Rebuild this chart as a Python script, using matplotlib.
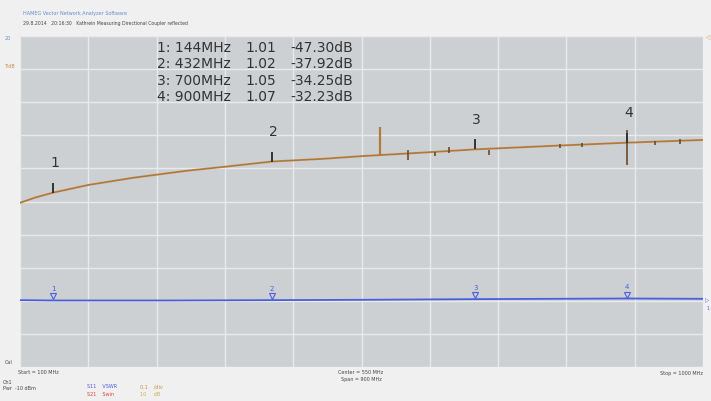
import matplotlib.pyplot as plt
import numpy as np

# trace S21 (dB), 100 .. 1000 MHz
freq_mhz = [100, 120, 144, 170, 190, 250, 320, 370, 432, 500, 550, 640, 700, 800, 900, 1000]
trace_db = [-50.4, -48.8, -47.3, -46.0, -45.0, -42.8, -40.7, -39.5, -37.92, -37.1, -36.3, -35.1, -34.25, -33.2, -32.23, -31.4]

# VSWR trace (blue)
vswr_freq = [100, 144, 300, 432, 550, 700, 800, 900, 1000]
vswr_val = [1.02, 1.01, 1.01, 1.02, 1.03, 1.05, 1.06, 1.07, 1.06]

# spikes on the dB trace: freq, top, bottom
spike_freq = [574, 611, 647, 665, 718, 812, 840, 900, 937, 970]
spike_top = [-27.5, -34.3, -35.0, -33.6, -34.4, -32.6, -32.3, -28.4, -31.6, -31.2]
spike_bot = [-36.0, -37.4, -36.4, -35.3, -35.9, -33.9, -33.6, -39.0, -32.9, -32.6]

# markers
marker_freq = [144, 432, 700, 900]
marker_vswr = ["1.01", "1.02", "1.05", "1.07"]
marker_db = [-47.30, -37.92, -34.25, -32.23]

fig = plt.figure(figsize=(7.11, 4.01), dpi=100)
fig.patch.set_facecolor('#f0f0f0')

ax = fig.add_axes([20 / 711, 1 - 367 / 401, 683 / 711, 331 / 401])
ax.set_facecolor('#cdd0d3')
ax.set_xlim(100, 1000)
ax.set_ylim(-100, 0)
ax.set_xticks(np.linspace(100, 1000, 11))
ax.set_yticks(np.linspace(-100, 0, 11))
ax.grid(True, color='#e8eaec', lw=1.0)
ax.tick_params(length=0, labelbottom=False, labelleft=False)
for s in ax.spines.values():
    s.set_visible(False)

# dB trace
ax.plot(freq_mhz, trace_db, color='#c08848', lw=1.4, zorder=3)
ax.plot(freq_mhz, trace_db, color='#8a5a2a', lw=0.5, alpha=0.5, zorder=3)
ax.vlines(spike_freq, spike_bot, spike_top, color='#6b4a2a', lw=1.2, zorder=4)
ax.vlines(spike_freq[0], spike_bot[0], spike_top[0], color='#b57a3a', lw=1.6, zorder=4)

for i, (f, d) in enumerate(zip(marker_freq, marker_db)):
    ax.vlines(f, d, d + 3.0, color='#333333', lw=1.4, zorder=5)
    ax.annotate(str(i + 1), (f, d), xytext=(1, 16), textcoords='offset points',
                ha='center', va='bottom', fontsize=10, color='#333333')

# VSWR trace on its own scale
ax2 = ax.twinx()
ax2.set_ylim(-1, 9)
ax2.axis('off')
ax2.plot(vswr_freq, vswr_val, color='#4a5ee0', lw=1.3)
for i, f in enumerate(marker_freq):
    v = vswr_val[vswr_freq.index(f)] if f in vswr_freq else 1.06
    ax2.plot(f, v + 0.12, marker='v', ms=4, mfc='none', mec='#4a5ee0', mew=0.8)
    ax2.annotate(str(i + 1), (f, v), xytext=(0, 6), textcoords='offset points',
                 ha='center', va='bottom', fontsize=5, color='#4a5ee0')

# marker readout
for i in range(4):
    y = 1 - (48 + 16.3 * i) / 401
    fig.text(157 / 711, y, f"{i + 1}: {marker_freq[i]}MHz", fontsize=10, color='#333333', va='center')
    fig.text(245 / 711, y, marker_vswr[i], fontsize=10, color='#333333', va='center')
    fig.text(290 / 711, y, f"{marker_db[i]:.2f}dB", fontsize=10, color='#333333', va='center')

# header
fig.text(23 / 711, 1 - 14 / 401, "HAMEG Vector Network Analyzer Software", fontsize=3.5, color='#6a8ad0', va='center')
fig.text(23 / 711, 1 - 24 / 401, "29.8.2014   20:16:30   Kathrein Measuring Directional Coupler reflected",
         fontsize=3.3, color='#444444', va='center')

# side labels
fig.text(5 / 711, 1 - 39 / 401, "20", fontsize=3.5, color='#6a8ad0', va='center')
fig.text(4 / 711, 1 - 66 / 401, "TrdB", fontsize=3.5, color='#c98a45', va='center')
fig.text(5 / 711, 1 - 362 / 401, "Cal", fontsize=3.5, color='#444444', va='center')
fig.text(705 / 711, 1 - 38 / 401, "◁", fontsize=4, color='#c98a45', va='center')
fig.text(705 / 711, 1 - 301 / 401, "▷", fontsize=4, color='#4a5ee0', va='center')
fig.text(706 / 711, 1 - 308 / 401, "1", fontsize=3.5, color='#4a5ee0', va='center')

# bottom info
fig.text(18 / 711, 1 - 373 / 401, "Start = 100 MHz", fontsize=3.5, color='#444444', va='center')
fig.text(361 / 711, 1 - 372 / 401, "Center = 550 MHz", fontsize=3.5, color='#444444', va='center', ha='center')
fig.text(361 / 711, 1 - 379 / 401, "Span = 900 MHz", fontsize=3.5, color='#444444', va='center', ha='center')
fig.text(703 / 711, 1 - 373 / 401, "Stop = 1000 MHz", fontsize=3.5, color='#444444', va='center', ha='right')
fig.text(3 / 711, 1 - 383 / 401, "Ch1", fontsize=3.5, color='#444444', va='center')
fig.text(3 / 711, 1 - 388 / 401, "Pwr  -10 dBm", fontsize=3.5, color='#444444', va='center')
fig.text(87 / 711, 1 - 387 / 401, "S11    VSWR", fontsize=3.5, color='#4a5ee0', va='center')
fig.text(87 / 711, 1 - 394 / 401, "S21    Swin", fontsize=3.5, color='#e04040', va='center')
fig.text(140 / 711, 1 - 387 / 401, "0.1    /div", fontsize=3.5, color='#c98a45', va='center')
fig.text(140 / 711, 1 - 394 / 401, "10     dB", fontsize=3.5, color='#d0b040', va='center')

fig.savefig('out.png', dpi=100, facecolor=fig.get_facecolor())
